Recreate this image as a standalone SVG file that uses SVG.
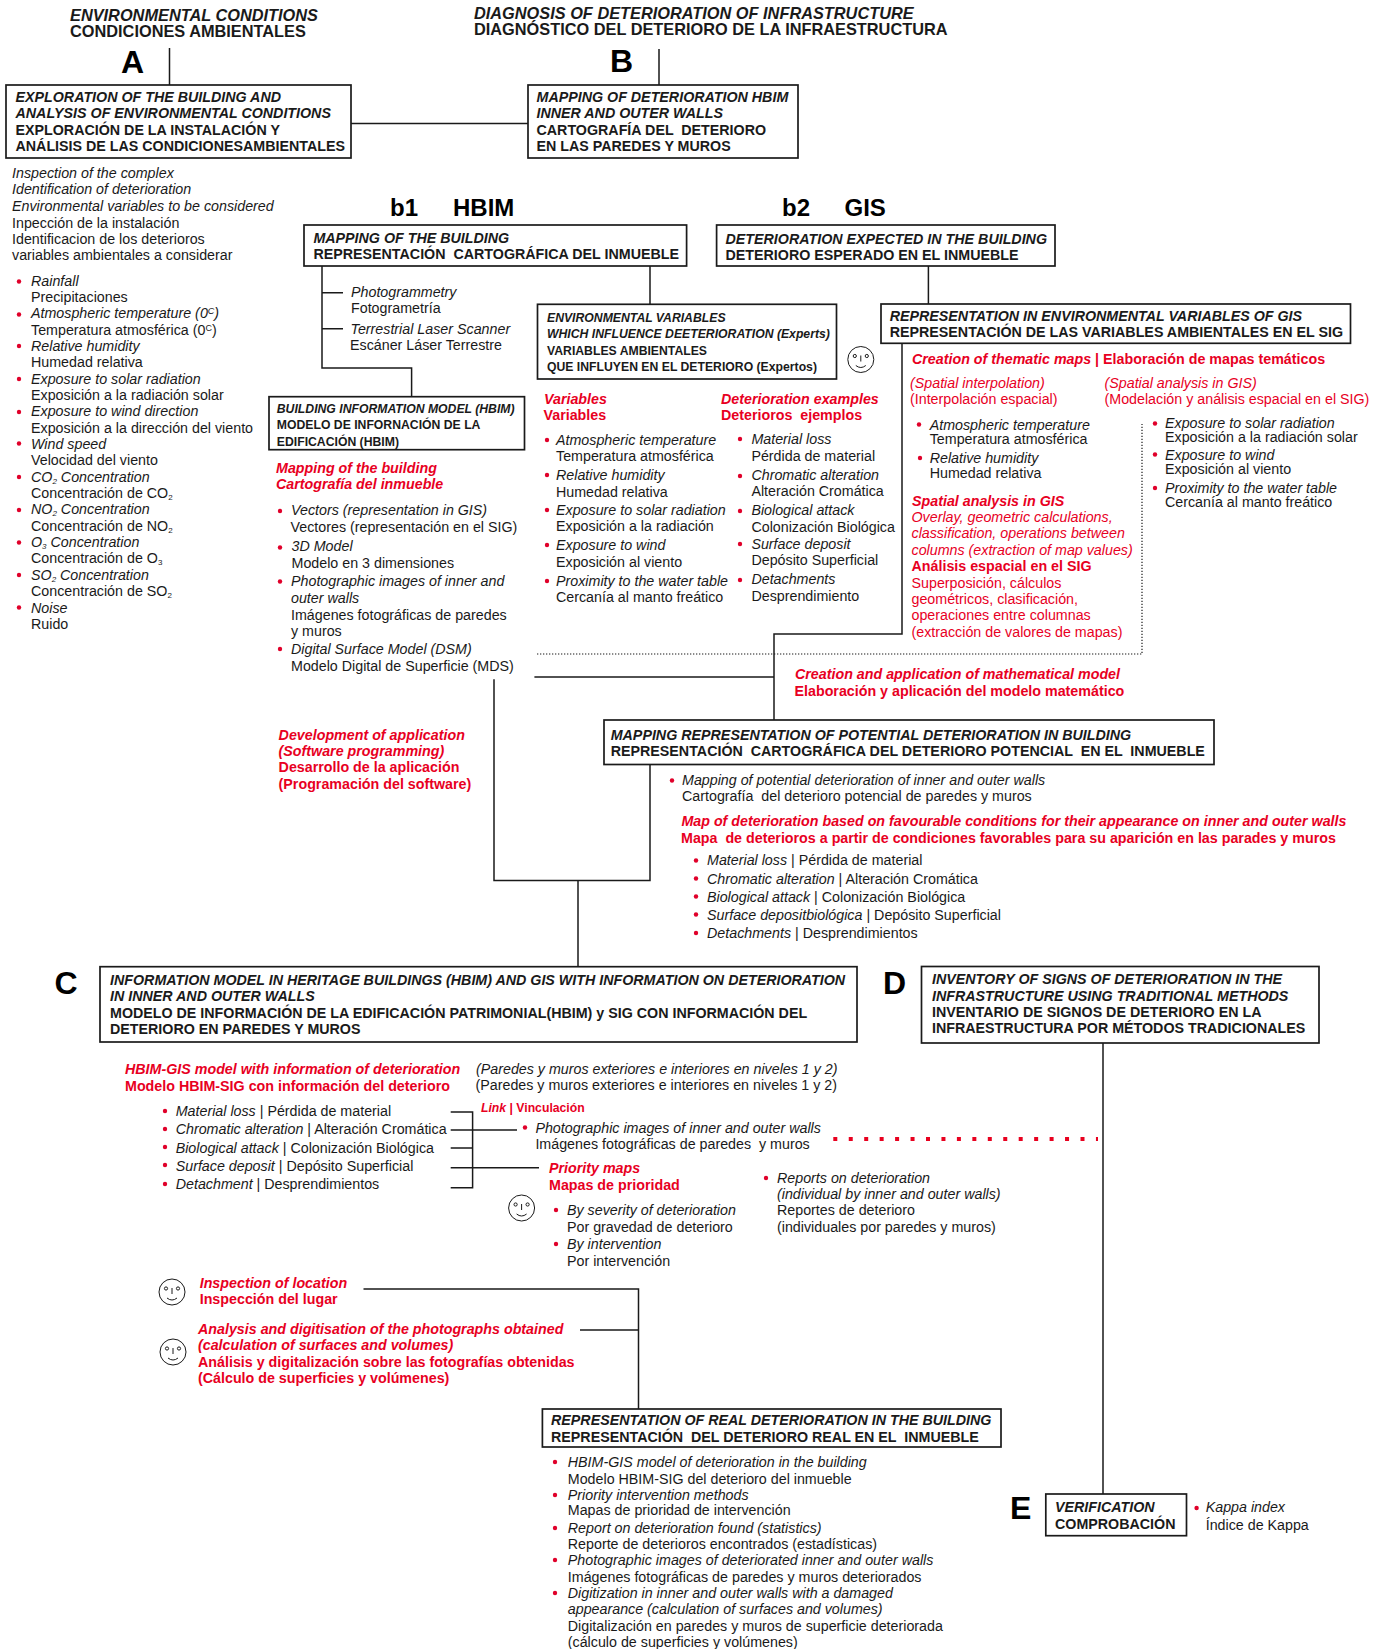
<svg xmlns="http://www.w3.org/2000/svg" width="1386" height="1649" viewBox="0 0 1386 1649">
<style>
text{font-family:"Liberation Sans",Arial,sans-serif;font-size:14.27px;fill:#1a1a1a;white-space:pre}
.i{font-style:italic}
.b{font-weight:bold}
.bi{font-weight:bold;font-style:italic}
.r{fill:#e8001f}
.h{font-size:14.27px}
.s{font-size:12.23px}
.t{font-size:16.33px}
.L{font-size:32px;font-weight:bold;fill:#000}
.M{font-size:24px;font-weight:bold;fill:#000}
.box{fill:#fff;stroke:#1a1a1a;stroke-width:1.7}
.ln{fill:none;stroke:#1a1a1a;stroke-width:1.5}
.dot{fill:#e0002a}
.f{fill:none;stroke:#1a1a1a;stroke-width:1}
</style>
<defs>
<g id="smile"><circle cx="0" cy="0" r="13" class="f"/><circle cx="-6" cy="-3.5" r="1.6" class="f"/><circle cx="6" cy="-3.5" r="1.6" class="f"/><path d="M0-4V2M-5 6Q0 10 5 6" class="f"/></g>
<circle id="d" r="2.2" class="dot"/>
</defs>
<g id="connectors">
<path class="ln" d="M169.5 48V85M659 49V85M351 123.5H528M322 266V368H411.6V397M322 292.7H343M322 328.7H343M650 266V304M928.4 266V304M902 343V634H774V720M534.4 677H774M494 679.3V880.5H650V764M578 880.5V966.5M1103 1043V1494M450.7 1112H472.6V1187.7H450.7M450.7 1130H517M450.7 1148H472.6M450.7 1167.7H539M363.5 1289H638.5V1409M580 1330H638.5"/>
<path d="M537 654H1142V424" fill="none" stroke="#1a1a1a" stroke-width="1.2" stroke-dasharray="1.3 1.7"/>
<path d="M833.300 1139H1098" fill="none" stroke="#e8001f" stroke-width="4" stroke-dasharray="4 11.45"/>
<rect x="340.300" y="123.300" width="1" height="1" fill="#555"/>
</g>
<g id="title-a"><text class="bi t" x="70" y="21">ENVIRONMENTAL CONDITIONS</text><text class="b t" x="70" y="37">CONDICIONES AMBIENTALES</text><text class="L" x="121" y="73">A</text></g>
<g id="title-b"><text class="bi t" x="474" y="19">DIAGNOSIS OF DETERIORATION OF INFRASTRUCTURE</text><text class="b t" x="474" y="35">DIAGNÓSTICO DEL DETERIORO DE LA INFRAESTRUCTURA</text><text class="L" x="610" y="72">B</text></g>
<g id="node-a"><rect class="box" x="6" y="85" width="345" height="73"/>
<text class="bi h" x="15.500" y="102">EXPLORATION OF THE BUILDING AND</text><text class="bi h" x="15.500" y="118">ANALYSIS OF ENVIRONMENTAL CONDITIONS</text><text class="b h" x="15.500" y="135">EXPLORACIÓN DE LA INSTALACIÓN Y</text><text class="b h" x="15.500" y="151">ANÁLISIS DE LAS CONDICIONESAMBIENTALES</text></g>
<g id="node-b"><rect class="box" x="528" y="85" width="270" height="73"/>
<text class="bi h" x="536.500" y="102">MAPPING OF DETERIORATION HBIM</text><text class="bi h" x="536.500" y="118">INNER AND OUTER WALLS</text><text class="b h" x="536.500" y="135">CARTOGRAFÍA DEL  DETERIORO</text><text class="b h" x="536.500" y="151">EN LAS PAREDES Y MUROS</text></g>
<g id="notes-a">
<text class="i" x="12" y="178">Inspection of the complex</text><text class="i" x="12" y="194">Identification of deterioration</text><text class="i" x="12" y="210.500">Environmental variables to be considered</text><text x="12" y="227.500">Inpección de la instalación</text><text x="12" y="243.500">Identificacion de los deterioros</text><text x="12" y="259.500">variables ambientales a considerar</text>
<use href="#d" x="19" y="281.500"/><text class="i" x="31" y="286">Rainfall</text><text x="31" y="302">Precipitaciones</text>
<use href="#d" x="19" y="314.500"/><text class="i" x="31" y="318.300">Atmospheric temperature (0<tspan font-size="9" dy="-4">C</tspan><tspan dy="4">)</tspan></text><text x="31" y="335">Temperatura atmosférica (0<tspan font-size="9" dy="-4">C</tspan><tspan dy="4">)</tspan></text>
<use href="#d" x="19" y="346"/><text class="i" x="31" y="351">Relative humidity</text><text x="31" y="367">Humedad relativa</text>
<use href="#d" x="19" y="379"/><text class="i" x="31" y="384">Exposure to solar radiation</text><text x="31" y="400">Exposición a la radiación solar</text>
<use href="#d" x="19" y="412"/><text class="i" x="31" y="416">Exposure to wind direction</text><text x="31" y="433">Exposición a la dirección del viento</text>
<use href="#d" x="19" y="443.500"/><text class="i" x="31" y="449">Wind speed</text><text x="31" y="465">Velocidad del viento</text>
<use href="#d" x="19" y="477"/><text class="i" x="31" y="482">CO<tspan font-size="8" dy="2">2</tspan><tspan dy="-2"> Concentration</tspan></text><text x="31" y="498">Concentración de CO<tspan font-size="8" dy="2">2</tspan></text>
<use href="#d" x="19" y="510"/><text class="i" x="31" y="514">NO<tspan font-size="8" dy="2">2</tspan><tspan dy="-2"> Concentration</tspan></text><text x="31" y="531">Concentración de NO<tspan font-size="8" dy="2">2</tspan></text>
<use href="#d" x="19" y="542.500"/><text class="i" x="31" y="547">O<tspan font-size="8" dy="2">3</tspan><tspan dy="-2"> Concentration</tspan></text><text x="31" y="563">Concentración de O<tspan font-size="8" dy="2">3</tspan></text>
<use href="#d" x="19" y="575"/><text class="i" x="31" y="580">SO<tspan font-size="8" dy="2">2</tspan><tspan dy="-2"> Concentration</tspan></text><text x="31" y="596">Concentración de SO<tspan font-size="8" dy="2">2</tspan></text>
<use href="#d" x="19" y="607.500"/><text class="i" x="31" y="612.500">Noise</text><text x="31" y="629">Ruido</text>
</g>
<g id="label-b1"><text class="M" x="390" y="216">b1</text><text class="M" x="453" y="216">HBIM</text></g>
<g id="label-b2"><text class="M" x="782" y="216">b2</text><text class="M" x="844.500" y="216">GIS</text></g>
<g id="node-b1"><rect class="box" x="304" y="225" width="382.600" height="41"/><text class="bi h" x="313.400" y="243">MAPPING OF THE BUILDING</text><text class="b h" x="313.400" y="259">REPRESENTACIÓN  CARTOGRÁFICA DEL INMUEBLE</text></g>
<g id="node-b2"><rect class="box" x="716.600" y="225" width="338.400" height="41"/><text class="bi h" x="725.500" y="244">DETERIORATION EXPECTED IN THE BUILDING</text><text class="b h" x="725.500" y="260">DETERIORO ESPERADO EN EL INMUEBLE</text></g>
<g id="notes-photo"><text class="i" x="351" y="296.700">Photogrammetry</text><text x="351" y="312.700">Fotogrametría</text><text class="i" x="350.500" y="333.700">Terrestrial Laser Scanner</text><text x="350" y="349.700">Escáner Láser Terrestre</text></g>
<g id="node-env"><rect class="box" x="537.500" y="304.300" width="299" height="74.700"/><text class="bi s" x="547" y="321.700">ENVIRONMENTAL VARIABLES</text><text class="bi s" x="547" y="338">WHICH INFLUENCE DEETERIORATION (Experts)</text><text class="b s" x="547" y="355">VARIABLES AMBIENTALES</text><text class="b s" x="547" y="370.700">QUE INFLUYEN EN EL DETERIORO (Expertos)</text></g>
<use href="#smile" x="860.800" y="359.500"/>
<g id="node-gis"><rect class="box" x="881" y="304" width="469.500" height="39.300"/><text class="bi h" x="889.700" y="320.500">REPRESENTATION IN ENVIRONMENTAL VARIABLES OF GIS</text><text class="b h" x="889.700" y="336.500">REPRESENTACIÓN DE LAS VARIABLES AMBIENTALES EN EL SIG</text></g>
<g id="node-hbim"><rect class="box" x="269" y="396.700" width="255.500" height="53"/><text class="bi s" x="276.800" y="412.700">BUILDING INFORMATION MODEL (HBIM)</text><text class="b s" x="276.800" y="428.700">MODELO DE INFORNACIÓN DE LA</text><text class="b s" x="276.800" y="445.500">EDIFICACIÓN (HBIM)</text></g>
<g id="notes-hbim">
<text class="bi r" x="276" y="473.300">Mapping of the building</text><text class="bi r" x="276" y="489">Cartografía del inmueble</text>
<use href="#d" x="280" y="511"/><text class="i" x="291" y="515.300">Vectors (representation in GIS)</text><text x="290.500" y="532">Vectores (representación en el SIG)</text>
<use href="#d" x="280" y="547.500"/><text class="i" x="291.500" y="551">3D Model</text><text x="291.500" y="568">Modelo en 3 dimensiones</text>
<use href="#d" x="280" y="581.500"/><text class="i" x="291" y="586">Photographic images of inner and</text><text class="i" x="291" y="602.700">outer walls</text><text x="291" y="620">Imágenes fotográficas de paredes</text><text x="291" y="636">y muros</text>
<use href="#d" x="280" y="649"/><text class="i" x="291" y="654">Digital Surface Model (DSM)</text><text x="291" y="671">Modelo Digital de Superficie (MDS)</text>
<text class="bi r" x="278.600" y="740">Development of application</text><text class="bi r" x="278.600" y="756">(Software programming)</text><text class="b r" x="278.600" y="772">Desarrollo de la aplicación</text><text class="b r" x="278.600" y="789">(Programación del software)</text>
</g>
<g id="notes-vars">
<text class="bi r" x="544" y="404">Variables</text><text class="b r" x="543.500" y="420">Variables</text>
<text class="bi r" x="721" y="404">Deterioration examples</text><text class="b r" x="721" y="420">Deterioros  ejemplos</text>
<use href="#d" x="547" y="440"/><text class="i" x="556" y="445">Atmospheric temperature</text><text x="556" y="461.300">Temperatura atmosférica</text>
<use href="#d" x="547" y="475"/><text class="i" x="556" y="480">Relative humidity</text><text x="556" y="497">Humedad relativa</text>
<use href="#d" x="547" y="510"/><text class="i" x="556" y="515">Exposure to solar radiation</text><text x="556" y="531">Exposición a la radiación</text>
<use href="#d" x="547" y="545"/><text class="i" x="556" y="550">Exposure to wind</text><text x="556" y="567">Exposición al viento</text>
<use href="#d" x="547" y="581"/><text class="i" x="556" y="586">Proximity to the water table</text><text x="556" y="602">Cercanía al manto freático</text>
<use href="#d" x="740" y="439"/><text class="i" x="751.400" y="444">Material loss</text><text x="751.400" y="460.700">Pérdida de material</text>
<use href="#d" x="740" y="476"/><text class="i" x="751.400" y="480">Chromatic alteration</text><text x="751.400" y="496">Alteración Cromática</text>
<use href="#d" x="740" y="511"/><text class="i" x="751.400" y="515">Biological attack</text><text x="751.400" y="532">Colonización Biológica</text>
<use href="#d" x="740" y="544"/><text class="i" x="751.400" y="549">Surface deposit</text><text x="751.400" y="565">Depósito Superficial</text>
<use href="#d" x="740" y="580"/><text class="i" x="751.400" y="584">Detachments</text><text x="751.400" y="601">Desprendimiento</text>
</g>
<g id="notes-gis">
<text class="b r" x="912" y="364"><tspan class="i">Creation of thematic maps</tspan> | Elaboración de mapas temáticos</text>
<text class="i r" x="910" y="387.700">(Spatial interpolation)</text><text class="r" x="910" y="404">(Interpolación espacial)</text>
<text class="i r" x="1104.500" y="387.700">(Spatial analysis in GIS)</text><text class="r" x="1104.500" y="404">(Modelación y análisis espacial en el SIG)</text>
<use href="#d" x="919" y="424.500"/><text class="i" x="929.700" y="429.500">Atmospheric temperature</text><text x="929.700" y="444">Temperatura atmosférica</text>
<use href="#d" x="920" y="458"/><text class="i" x="929.700" y="463">Relative humidity</text><text x="929.700" y="477.500">Humedad relativa</text>
<use href="#d" x="1155" y="423.500"/><text class="i" x="1165" y="428">Exposure to solar radiation</text><text x="1165" y="441.700">Exposición a la radiación solar</text>
<use href="#d" x="1155" y="454.500"/><text class="i" x="1165" y="459.600">Exposure to wind</text><text x="1165" y="474">Exposición al viento</text>
<use href="#d" x="1155" y="488"/><text class="i" x="1165" y="492.800">Proximity to the water table</text><text x="1165" y="507">Cercanía al manto freático</text>
<text class="bi r" x="912" y="506">Spatial analysis in GIS</text>
<text class="i r" x="911.500" y="522">Overlay, geometric calculations,</text><text class="i r" x="911.500" y="538">classification, operations between</text><text class="i r" x="911.500" y="555">columns (extraction of map values)</text>
<text class="b r" x="911.500" y="571">Análisis espacial en el SIG</text>
<text class="r" x="911.500" y="588">Superposición, cálculos</text><text class="r" x="911.500" y="604">geométricos, clasificación,</text><text class="r" x="911.500" y="620">operaciones entre columnas</text><text class="r" x="911.500" y="637">(extracción de valores de mapas)</text>
<text class="bi r" x="795" y="679">Creation and application of mathematical model</text><text class="b r" x="794.500" y="695.500">Elaboración y aplicación del modelo matemático</text>
</g>
<g id="node-potential"><rect class="box" x="604" y="720" width="610" height="44.500"/><text class="bi h" x="610.700" y="739.800">MAPPING REPRESENTATION OF POTENTIAL DETERIORATION IN BUILDING</text><text class="b h" x="610.700" y="755.700">REPRESENTACIÓN  CARTOGRÁFICA DEL DETERIORO POTENCIAL  EN EL  INMUEBLE</text></g>
<g id="notes-potential">
<use href="#d" x="672" y="780.500"/><text class="i" x="682" y="784.700">Mapping of potential deterioration of inner and outer walls</text><text x="682" y="801">Cartografía  del deterioro potencial de paredes y muros</text>
<text class="bi r" x="681.400" y="826">Map of deterioration based on favourable conditions for their appearance on inner and outer walls</text><text class="b r" x="681" y="843">Mapa  de deterioros a partir de condiciones favorables para su aparición en las parades y muros</text>
<use href="#d" x="696" y="860.500"/><text x="707" y="865"><tspan class="i">Material loss</tspan> | Pérdida de material</text>
<use href="#d" x="696" y="878.500"/><text x="707" y="884"><tspan class="i">Chromatic alteration</tspan> | Alteración Cromática</text>
<use href="#d" x="696" y="896.500"/><text x="707" y="902.400"><tspan class="i">Biological attack</tspan> | Colonización Biológica</text>
<use href="#d" x="696" y="914.500"/><text x="707" y="920"><tspan class="i">Surface depositbiológica</tspan> | Depósito Superficial</text>
<use href="#d" x="696" y="933"/><text x="707" y="938"><tspan class="i">Detachments</tspan> | Desprendimientos</text>
</g>
<g id="node-c"><text class="L" x="54.500" y="994">C</text><rect class="box" x="100" y="966.700" width="757" height="75.300"/><text class="bi h" x="110" y="985">INFORMATION MODEL IN HERITAGE BUILDINGS (HBIM) AND GIS WITH INFORMATION ON DETERIORATION</text><text class="bi h" x="110" y="1001">IN INNER AND OUTER WALLS</text><text class="b h" x="110" y="1018">MODELO DE INFORMACIÓN DE LA EDIFICACIÓN PATRIMONIAL(HBIM) y SIG CON INFORMACIÓN DEL</text><text class="b h" x="110" y="1034">DETERIORO EN PAREDES Y MUROS</text></g>
<g id="node-d"><text class="L" x="883" y="994">D</text><rect class="box" x="921.500" y="966.500" width="397.500" height="76.500"/><text class="bi h" x="932" y="983.800">INVENTORY OF SIGNS OF DETERIORATION IN THE</text><text class="bi h" x="932" y="1000.500">INFRASTRUCTURE USING TRADITIONAL METHODS</text><text class="b h" x="932" y="1017">INVENTARIO DE SIGNOS DE DETERIORO EN LA</text><text class="b h" x="932" y="1033">INFRAESTRUCTURA POR MÉTODOS TRADICIONALES</text></g>
<g id="notes-c">
<text class="bi r" x="125" y="1074">HBIM-GIS model with information of deterioration</text><text class="b r" x="125" y="1091">Modelo HBIM-SIG con información del deterioro</text>
<text class="i" x="476" y="1074">(Paredes y muros exteriores e interiores en niveles 1 y 2)</text><text x="475.500" y="1090">(Paredes y muros exteriores e interiores en niveles 1 y 2)</text>
<use href="#d" x="165" y="1111"/><text x="175.700" y="1116"><tspan class="i">Material loss</tspan> | Pérdida de material</text>
<use href="#d" x="165" y="1129"/><text x="175.700" y="1134"><tspan class="i">Chromatic alteration</tspan> | Alteración Cromática</text>
<use href="#d" x="165" y="1147"/><text x="175.700" y="1153"><tspan class="i">Biological attack</tspan> | Colonización Biológica</text>
<use href="#d" x="165" y="1165"/><text x="175.700" y="1171"><tspan class="i">Surface deposit</tspan> | Depósito Superficial</text>
<use href="#d" x="165" y="1184"/><text x="175.700" y="1189"><tspan class="i">Detachment</tspan> | Desprendimientos</text>
<text class="b r s" x="481" y="1112"><tspan class="i">Link</tspan> | Vinculación</text>
<use href="#d" x="525" y="1127.500"/><text class="i" x="535.400" y="1133">Photographic images of inner and outer walls</text><text x="535.400" y="1149">Imágenes fotográficas de paredes  y muros</text>
<text class="bi r" x="549" y="1173">Priority maps</text><text class="b r" x="549" y="1190">Mapas de prioridad</text>
<use href="#smile" x="521.600" y="1208"/>
<use href="#d" x="556" y="1210"/><text class="i" x="567" y="1215">By severity of deterioration</text><text x="567" y="1232">Por gravedad de deterioro</text>
<use href="#d" x="556" y="1244"/><text class="i" x="567" y="1249">By intervention</text><text x="567" y="1265.700">Por intervención</text>
<use href="#d" x="766" y="1178"/><text class="i" x="777" y="1183">Reports on deterioration</text><text class="i" x="777" y="1199">(individual by inner and outer walls)</text><text x="777" y="1215">Reportes de deterioro</text><text x="777" y="1232">(individuales por paredes y muros)</text>
<use href="#smile" x="172" y="1292"/>
<text class="bi r" x="199.700" y="1288">Inspection of location</text><text class="b r" x="199.700" y="1304">Inspección del lugar</text>
<use href="#smile" x="173" y="1352"/>
<text class="bi r" x="198" y="1334">Analysis and digitisation of the photographs obtained</text><text class="bi r" x="198" y="1350">(calculation of surfaces and volumes)</text><text class="b r" x="198" y="1367">Análisis y digitalización sobre las fotografías obtenidas</text><text class="b r" x="198" y="1383">(Cálculo de superficies y volúmenes)</text>
</g>
<g id="node-real"><rect class="box" x="542.400" y="1409" width="458.600" height="38"/><text class="bi h" x="551" y="1425">REPRESENTATION OF REAL DETERIORATION IN THE BUILDING</text><text class="b h" x="551" y="1441.700">REPRESENTACIÓN  DEL DETERIORO REAL EN EL  INMUEBLE</text></g>
<g id="notes-real">
<use href="#d" x="555" y="1462"/><text class="i" x="567.800" y="1466.700">HBIM-GIS model of deterioration in the building</text><text x="567.800" y="1483.700">Modelo HBIM-SIG del deterioro del inmueble</text>
<use href="#d" x="555" y="1495"/><text class="i" x="567.800" y="1499.700">Priority intervention methods</text><text x="567.800" y="1515.300">Mapas de prioridad de intervención</text>
<use href="#d" x="555" y="1528"/><text class="i" x="567.800" y="1532.700">Report on deterioration found (statistics)</text><text x="567.800" y="1548.700">Reporte de deterioros encontrados (estadísticas)</text>
<use href="#d" x="555" y="1560"/><text class="i" x="567.800" y="1565">Photographic images of deteriorated inner and outer walls</text><text x="567.800" y="1581.700">Imágenes fotográficas de paredes y muros deteriorados</text>
<use href="#d" x="555" y="1593"/><text class="i" x="567.800" y="1597.700">Digitization in inner and outer walls with a damaged</text><text class="i" x="567.800" y="1614">appearance (calculation of surfaces and volumes)</text><text x="567.800" y="1630.700">Digitalización en paredes y muros de superficie deteriorada</text><text x="567.800" y="1646.700">(cálculo de superficies y volúmenes)</text>
</g>
<g id="node-e"><text class="L" x="1010" y="1518.500">E</text><rect class="box" x="1045.800" y="1494" width="140.700" height="41.700"/><text class="bi h" x="1055" y="1511.700">VERIFICATION</text><text class="b h" x="1055" y="1528.500">COMPROBACIÓN</text></g>
<g id="notes-e"><use href="#d" x="1196.600" y="1508"/><text class="i" x="1205.700" y="1512.300">Kappa index</text><text x="1205.700" y="1530">Índice de Kappa</text></g>
</svg>
